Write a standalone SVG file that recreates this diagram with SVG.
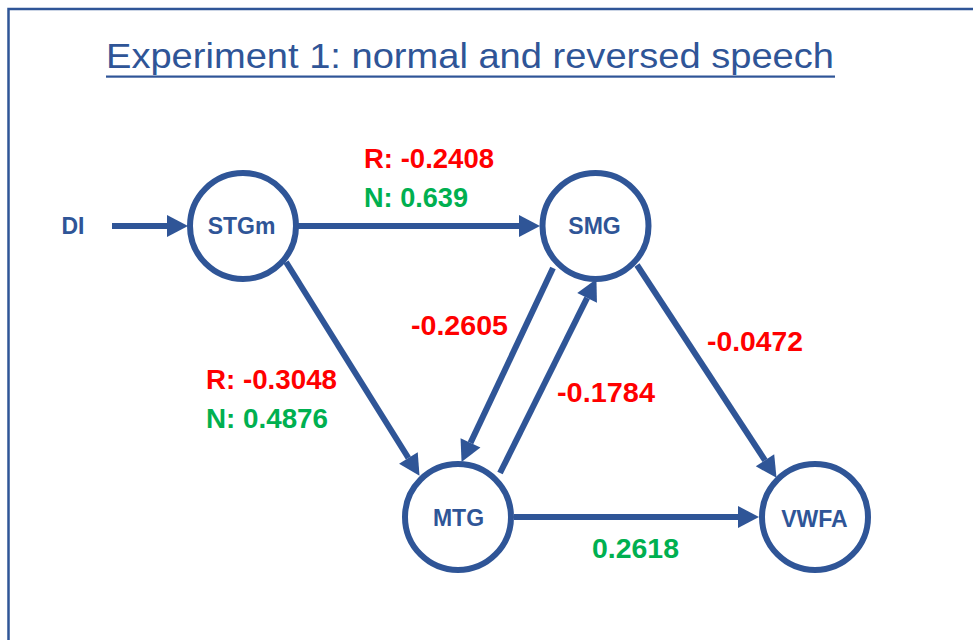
<svg xmlns="http://www.w3.org/2000/svg" width="973" height="640" viewBox="0 0 973 640">
  <defs>
    <marker id="ah" markerUnits="userSpaceOnUse" markerWidth="22" markerHeight="24" refX="0" refY="11" orient="auto" viewBox="0 0 22 24" overflow="visible">
      <path d="M0,0 L21,11 L0,22 Z" fill="#2F5597"/>
    </marker>
  </defs>
  <style>
    .frame { fill: none; stroke: #2F5597; stroke-width: 2.5; }
    .title { font-family: "Liberation Sans", Arial, sans-serif; font-size: 35px; fill: #2F5597; }
    .node circle { fill: #FFFFFF; stroke: #2F5597; stroke-width: 6; }
    .node text, .lbl { font-family: "Liberation Sans", Arial, sans-serif; font-weight: bold; }
    .node text { font-size: 23px; fill: #2F5597; text-anchor: middle; }
    .edge { stroke: #2F5597; stroke-width: 6; fill: none; marker-end: url(#ah); }
    .lbl { font-size: 27px; }
    .red { fill: #FF0000; }
    .green { fill: #00B050; }
  </style>
  <rect width="973" height="640" fill="#FFFFFF"/>
  <rect class="frame" x="8.5" y="9" width="1000" height="700"/>
  <g id="title">
    <text class="title" x="106" y="68" textLength="728" lengthAdjust="spacingAndGlyphs">Experiment 1: normal and reversed speech</text>
    <rect x="106" y="75.5" width="729" height="2.2" fill="#2F5597"/>
  </g>
  <g id="connectors">
    <line class="edge" x1="112" y1="226" x2="167" y2="226"/>
    <line class="edge" x1="298" y1="226" x2="519" y2="226"/>
    <line class="edge" x1="514" y1="517" x2="738" y2="517"/>
    <line class="edge" x1="286" y1="262" x2="408.4" y2="458"/>
    <line class="edge" x1="553" y1="268" x2="470.5" y2="442.9"/>
    <line class="edge" x1="500" y1="473" x2="587.1" y2="297.9"/>
    <line class="edge" x1="637" y1="265" x2="765" y2="460.3"/>
  </g>
  <g id="labels">
    <text class="lbl red" x="364" y="168" textLength="130" lengthAdjust="spacingAndGlyphs">R: -0.2408</text>
    <text class="lbl green" x="364" y="207" textLength="104" lengthAdjust="spacingAndGlyphs">N: 0.639</text>
    <text class="lbl red" x="206" y="389" textLength="131" lengthAdjust="spacingAndGlyphs">R: -0.3048</text>
    <text class="lbl green" x="206" y="428" textLength="122" lengthAdjust="spacingAndGlyphs">N: 0.4876</text>
    <text class="lbl red" x="411" y="335" textLength="97" lengthAdjust="spacingAndGlyphs">-0.2605</text>
    <text class="lbl red" x="557" y="402" textLength="98" lengthAdjust="spacingAndGlyphs">-0.1784</text>
    <text class="lbl red" x="707" y="351" textLength="96" lengthAdjust="spacingAndGlyphs">-0.0472</text>
    <text class="lbl green" x="592" y="558" textLength="87" lengthAdjust="spacingAndGlyphs">0.2618</text>
  </g>
  <g id="DI" class="node">
    <text x="73" y="234">DI</text>
  </g>
  <g id="STGm" class="node">
    <circle cx="243" cy="226" r="53"/>
    <text x="241.5" y="234">STGm</text>
  </g>
  <g id="SMG" class="node">
    <circle cx="595.5" cy="226" r="53"/>
    <text x="594.5" y="234">SMG</text>
  </g>
  <g id="MTG" class="node">
    <circle cx="458" cy="517" r="53"/>
    <text x="458.5" y="526">MTG</text>
  </g>
  <g id="VWFA" class="node">
    <circle cx="815" cy="517" r="53"/>
    <text x="814.5" y="527">VWFA</text>
  </g>
</svg>
